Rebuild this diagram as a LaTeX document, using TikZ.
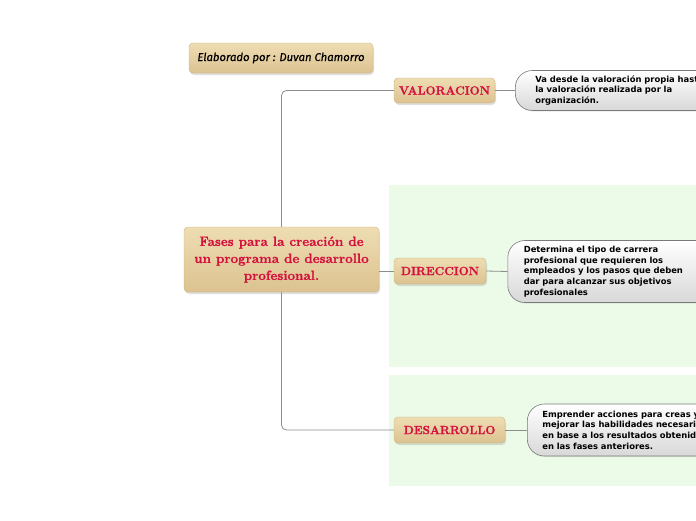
\documentclass[tikz,border=0pt]{standalone}
\usepackage{fontspec}
\usetikzlibrary{shadows}
\newfontfamily\bubfont{DejaVu Sans}
\newfontfamily\handfont{Fira Sans}[ItalicFeatures={FakeBold=0.6}]
\newfontfamily\headfont{Latin Modern Roman}[BoldFeatures={FakeBold=1.1}]
\definecolor{bggreen}{HTML}{EBFBE8}
\definecolor{tantop}{HTML}{EEDDB3}
\definecolor{tanbot}{HTML}{DCC290}
\definecolor{tanedge}{HTML}{CDB27C}
\definecolor{redtxt}{HTML}{D4103C}
\definecolor{linegray}{HTML}{8C8C8C}
\definecolor{bubedge}{HTML}{7A7A7A}
\definecolor{bubbot}{HTML}{D8D8D8}
\tikzset{
  tanbox/.style={rectangle, rounded corners=4pt, top color=tantop, bottom color=tanbot,
    draw=tanedge, line width=0.4pt, inner sep=2pt,
    drop shadow={shadow xshift=1pt, shadow yshift=-2pt, opacity=0.25}},
  mainbox/.style={tanbox, text=redtxt, align=center,
    font=\headfont\bfseries\fontsize{13.4}{17}\selectfont},
  branchbox/.style={tanbox, text=redtxt,
    font=\headfont\bfseries\fontsize{11.8}{14}\selectfont},
  authorbox/.style={tanbox, text=black,
    font=\handfont\itshape\fontsize{11.3}{14}\selectfont},
  bubble/.style={rectangle, rounded corners=17pt, top color=white, bottom color=bubbot,
    draw=bubedge, line width=0.6pt, align=left, anchor=west, text width=200pt,
    font=\bubfont\bfseries\fontsize{8.4}{10.7}\selectfont, inner ysep=3pt,
    drop shadow={shadow xshift=0.5pt, shadow yshift=-1pt, opacity=0.15}},
  link/.style={draw=linegray, line width=0.8pt},
}
\begin{document}
\begin{tikzpicture}[x=1pt,y=-1pt]
\useasboundingbox (0,0) rectangle (696,520);
\clip (0,0) rectangle (696,520);
\fill[white] (0,0) rectangle (696,520);
\fill[bggreen] (389,185) rectangle (696,367);
\fill[bggreen] (389,375) rectangle (696,486);

\coordinate (trunkTop) at (281.5,227);
\coordinate (trunkBot) at (281.5,292);

\node[authorbox, minimum width=184pt, minimum height=30pt] (author) at (281,58) {Elaborado por : Duvan Chamorro};

\node[branchbox, minimum width=101pt, minimum height=25pt] (val) at (444.5,90.5) {VALORACION};
\node[branchbox, minimum width=92pt, minimum height=26pt] (dir) at (440,271) {DIRECCION};
\node[branchbox, minimum width=111pt, minimum height=26pt] (des) at (449.5,430) {DESARROLLO};

\node[bubble, inner xsep=20pt, minimum height=40pt] (valb) at (515,90.5)
  {Va desde la valoración propia hasta\\la valoración realizada por la\\organización.};
\node[bubble, inner xsep=16pt, minimum height=62pt] (dirb) at (507.5,271.5)
  {Determina el tipo de carrera\\profesional que requieren los\\empleados y los pasos que deben\\dar para alcanzar sus objetivos\\profesionales};
\node[bubble, inner xsep=15pt, minimum height=52pt] (desb) at (527,430)
  {Emprender acciones para creas y\\mejorar las habilidades necesarias\\en base a los resultados obtenidos\\en las fases anteriores.};

\draw[link, rounded corners=5pt] (trunkTop) |- (val.west);
\draw[link, rounded corners=5pt] (trunkBot) |- (des.west);
\draw[link] (val.east) -- (valb.west);
\draw[link] (dir.east) -- (dirb.west);
\draw[link] (des.east) -- (desb.west);

\node[mainbox, minimum width=195pt, minimum height=65pt] (main) at (281.5,259.5)
  {Fases para la creación de\\un programa de desarrollo\\profesional.};
\draw[link] (main.east |- dir.west) -- (dir.west);
\end{tikzpicture}
\end{document}
